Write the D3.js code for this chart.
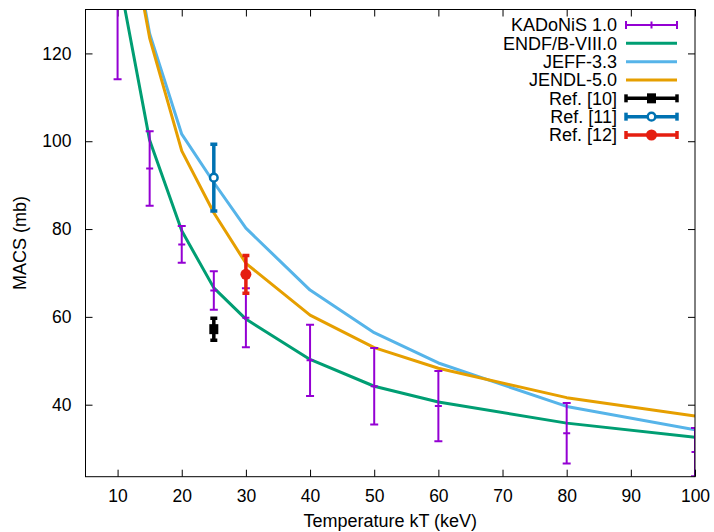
<!DOCTYPE html>
<html><head><meta charset="utf-8">
<script src="https://cdn.jsdelivr.net/npm/d3@7"></script>
<style>
body{margin:0;background:#fff;}
text{font-family:"Liberation Sans",Arial,Helvetica,sans-serif;fill:#000;}
</style></head>
<body><svg id="c" width="714" height="532"></svg>
<script>
// ---- data ----
const temps = [10, 15, 20, 25, 30, 40, 50, 60, 80, 100];
const endf  = [139, 100.2, 79.6, 66.6, 59.5, 50.3, 44.2, 40.6, 35.8, 32.6];
const jeff  = [165, 124.5, 101.6, 90.6, 80.2, 66.1, 56.4, 49.5, 39.6, 34.3];
const jendl = [163, 123.5, 97.8, 83.7, 72.2, 60.4, 53.0, 48.3, 41.6, 37.4];
const kadVal = [136, 93.8, 76.5, 66.0, 59.8, 50.1, 44.2, 39.7, 33.5, 29.2];
const kadErr = [21.9, 8.5, 4.2, 4.4, 6.7, 8.1, 8.7, 8.0, 6.9, 5.5];
const ref10 = {t: 25, v: 57.2, e: 2.5};
const ref11 = {t: 25, v: 91.7, e: 7.6};
const ref12 = {t: 30, v: 69.7, e: 4.3};
const xTicks = [10, 20, 30, 40, 50, 60, 70, 80, 90, 100];
const yTicks = [40, 60, 80, 100, 120];
const legendLabels = ["KADoNiS 1.0", "ENDF/B-VIII.0", "JEFF-3.3", "JENDL-5.0", "Ref. [10]", "Ref. [11]", "Ref. [12]"];
const colors = {kad:"#9400D3", endf:"#009E73", jeff:"#56B4E9", jendl:"#E69F00", r10:"#000000", r11:"#0072B2", r12:"#E51E10"};

// ---- layout ----
const L = 85.5, R = 695, T = 9.5, B = 476.7;
const svg = d3.select("#c");
const x = d3.scaleLinear().domain([5, 100]).range([L, R]);
const y = d3.scaleLinear().domain([23.6, 130]).range([B, T]);

svg.append("defs").append("clipPath").attr("id","clip")
  .append("rect").attr("x",L).attr("y",T).attr("width",R-L).attr("height",B-T);

const fs = 17.5, fsT = 18;
const gxB = svg.append("g").attr("transform",`translate(0,${B})`)
  .call(d3.axisBottom(x).tickValues(xTicks).tickSizeInner(-7).tickSizeOuter(0).tickPadding(13));
const gxT = svg.append("g").attr("transform",`translate(0,${T})`)
  .call(d3.axisTop(x).tickValues(xTicks).tickSizeInner(-7).tickSizeOuter(0).tickFormat(""));
const gyL = svg.append("g").attr("transform",`translate(${L},0)`)
  .call(d3.axisLeft(y).tickValues(yTicks).tickSizeInner(-7).tickSizeOuter(0).tickPadding(14));
const gyR = svg.append("g").attr("transform",`translate(${R},0)`)
  .call(d3.axisRight(y).tickValues(yTicks).tickSizeInner(-7).tickSizeOuter(0).tickFormat(""));
[gxB,gxT,gyL,gyR].forEach(g=>{
  g.select(".domain").remove();
  g.selectAll(".tick line").attr("stroke","#000").attr("stroke-width",1);
  g.selectAll("text").attr("font-size",fs).style("font-family","'Liberation Sans',Arial,sans-serif").attr("fill","#000");
});
gxB.selectAll("text").attr("dy","0.71em");

// curves
const line = d3.line().x((d,i)=>x(temps[i])).y(d=>y(d));
const plot = svg.append("g").attr("clip-path","url(#clip)");
[[endf,colors.endf],[jeff,colors.jeff],[jendl,colors.jendl]].forEach(([arr,c])=>{
  plot.append("path").datum(arr).attr("d",line).attr("fill","none")
    .attr("stroke",c).attr("stroke-width",3).attr("stroke-linejoin","round");
});

// KADoNiS error bars
const kad = plot.append("g").attr("stroke",colors.kad).attr("stroke-width",2).attr("fill","none");
temps.forEach((t,i)=>{
  const cx = x(t), y1 = y(kadVal[i]+kadErr[i]), y2 = y(kadVal[i]-kadErr[i]), cy = y(kadVal[i]);
  kad.append("line").attr("x1",cx).attr("x2",cx).attr("y1",y1).attr("y2",y2);
  kad.append("line").attr("x1",cx-4).attr("x2",cx+4).attr("y1",y1).attr("y2",y1);
  kad.append("line").attr("x1",cx-4).attr("x2",cx+4).attr("y1",y2).attr("y2",y2);
  kad.append("line").attr("x1",cx-3.5).attr("x2",cx+3.5).attr("y1",cy).attr("y2",cy);
});

// reference points
function refPoint(g, r, color, kind){
  const cx = x(r.t), y1 = y(r.v+r.e), y2 = y(r.v-r.e), cy = y(r.v);
  const gg = g.append("g").attr("stroke",color).attr("stroke-width",3.5).attr("fill","none");
  gg.append("line").attr("x1",cx).attr("x2",cx).attr("y1",y1).attr("y2",y2);
  gg.append("line").attr("x1",cx-3.5).attr("x2",cx+3.5).attr("y1",y1).attr("y2",y1);
  gg.append("line").attr("x1",cx-3.5).attr("x2",cx+3.5).attr("y1",y2).attr("y2",y2);
  drawMarker(g, cx, cy, color, kind);
}
function drawMarker(g, cx, cy, color, kind){
  if(kind==="square") g.append("rect").attr("x",cx-4.5).attr("y",cy-5).attr("width",9).attr("height",10).attr("fill",color);
  else if(kind==="open") g.append("circle").attr("cx",cx).attr("cy",cy).attr("r",3.8).attr("fill","#fff").attr("stroke",color).attr("stroke-width",2.5);
  else if(kind==="filled") g.append("circle").attr("cx",cx).attr("cy",cy).attr("r",5.5).attr("fill",color);
}
refPoint(plot, ref10, colors.r10, "square");
refPoint(plot, ref11, colors.r11, "open");
refPoint(plot, ref12, colors.r12, "filled");

// frame
svg.append("rect").attr("x",L).attr("y",T).attr("width",R-L).attr("height",B-T)
  .attr("fill","none").attr("stroke","#000").attr("stroke-width",1);

// axis titles
svg.append("text").attr("x",(L+R)/2).attr("y",527).attr("text-anchor","middle")
  .attr("font-size",fsT).text("Temperature kT (keV)");
svg.append("text").attr("transform",`translate(26,${(T+B)/2}) rotate(-90)`).attr("text-anchor","middle")
  .attr("font-size",fsT).text("MACS (mb)");

// legend
const lx1 = 626, lx2 = 677, ltx = 617;
const legY = d3.scaleLinear().domain([0,6]).range([25,135]);
const legendStyles = [
  {c:colors.kad, type:"err", w:2, m:"plus"},
  {c:colors.endf, type:"line", w:3},
  {c:colors.jeff, type:"line", w:3},
  {c:colors.jendl, type:"line", w:3},
  {c:colors.r10, type:"err", w:3.5, m:"square"},
  {c:colors.r11, type:"err", w:3.5, m:"open"},
  {c:colors.r12, type:"err", w:3.5, m:"filled"}
];
const leg = svg.append("g");
legendLabels.forEach((lab,i)=>{
  const yy = legY(i), s = legendStyles[i];
  leg.append("text").attr("x",ltx).attr("y",yy).attr("dy","0.36em").attr("text-anchor","end")
    .attr("font-size",fsT).text(lab);
  const g = leg.append("g");
  g.append("line").attr("x1",lx1).attr("x2",lx2).attr("y1",yy).attr("y2",yy).attr("stroke",s.c).attr("stroke-width",s.w);
  if(s.type==="err"){
    g.append("line").attr("x1",lx1).attr("x2",lx1).attr("y1",yy-4).attr("y2",yy+4).attr("stroke",s.c).attr("stroke-width",s.w);
    g.append("line").attr("x1",lx2).attr("x2",lx2).attr("y1",yy-4).attr("y2",yy+4).attr("stroke",s.c).attr("stroke-width",s.w);
    const mx = (lx1+lx2)/2;
    if(s.m==="plus") g.append("line").attr("x1",mx).attr("x2",mx).attr("y1",yy-3.5).attr("y2",yy+3.5).attr("stroke",s.c).attr("stroke-width",2);
    else drawMarker(g, mx, yy, s.c, s.m);
  }
});
</script></body></html>
